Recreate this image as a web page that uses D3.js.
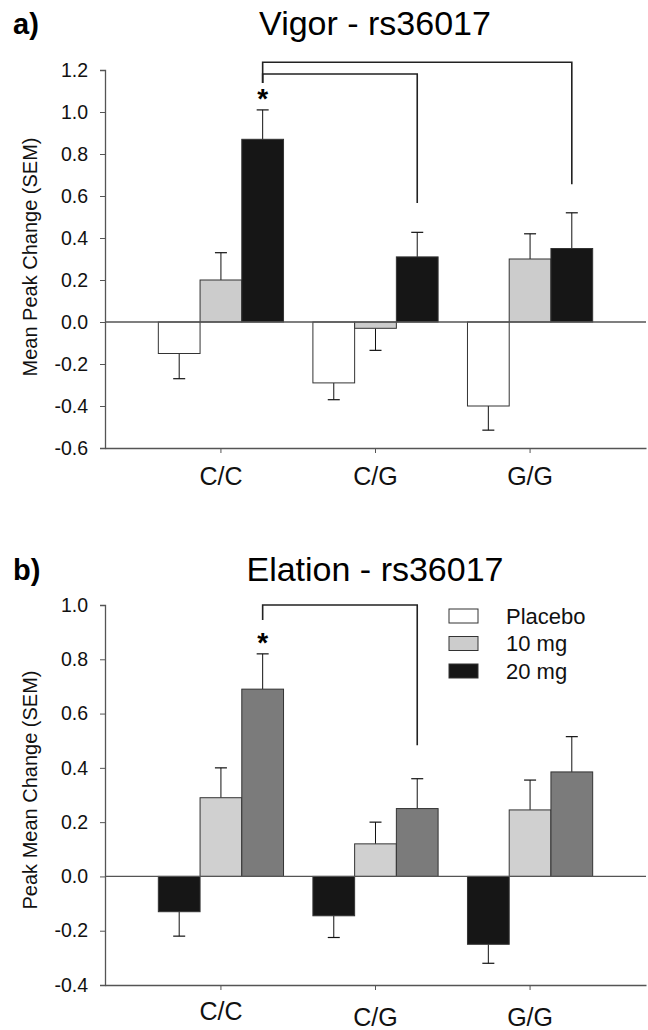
<!DOCTYPE html>
<html>
<head>
<meta charset="utf-8">
<script src="https://cdn.jsdelivr.net/npm/d3@7"></script>
<style>
  body { margin: 0; background: #fff; }
  svg { display: block; font-family: "Liberation Sans", Arial, Helvetica, sans-serif; }
</style>
</head>
<body>
<svg id="chart"></svg>
<script>
var width = 648, height = 1030;

const categories = ["C/C", "C/G", "G/G"];
const doses = ["Placebo", "10 mg", "20 mg"];

// Vigor - rs36017
const vigorPlacebo = [-0.15, -0.29, -0.40];
const vigor10 = [0.20, -0.03, 0.30];
const vigor20 = [0.87, 0.31, 0.35];
const vigorPlaceboSem = [0.12, 0.08, 0.115];
const vigor10Sem = [0.13, 0.105, 0.12];
const vigor20Sem = [0.14, 0.117, 0.17];
const vigorTicks = [-0.6, -0.4, -0.2, 0.0, 0.2, 0.4, 0.6, 0.8, 1.0, 1.2];

// Elation - rs36017
const elationPlacebo = [-0.13, -0.145, -0.25];
const elation10 = [0.29, 0.12, 0.245];
const elation20 = [0.69, 0.25, 0.385];
const elationPlaceboSem = [0.09, 0.08, 0.07];
const elation10Sem = [0.11, 0.08, 0.11];
const elation20Sem = [0.13, 0.11, 0.13];
const elationTicks = [-0.4, -0.2, 0.0, 0.2, 0.4, 0.6, 0.8, 1.0];

// significance brackets: category index of the 20 mg bars, heights in data units
const vigorBrackets = [
  { from: 0, to: 2, top: 1.237, left: 1.138, right: 0.656 },
  { from: 0, to: 1, top: 1.181, left: 1.138, right: 0.567 },
];
const elationBrackets = [
  { from: 0, to: 1, top: 1.0, left: 0.945, right: 0.483 },
];

const svg = d3.select("#chart").attr("width", width).attr("height", height);

const axisColor = "#555";

const x0 = d3.scaleBand()
  .domain(categories)
  .range([105, 646])
  .paddingInner(0.19)
  .paddingOuter(0.345);

const x1 = d3.scaleBand()
  .domain(doses)
  .range([0, x0.bandwidth()]);

// plain hyphen for negatives, like the original
const fmt = (d) => d3.format(".1f")(d).replace("\u2212", "-");

function drawPanel(cfg) {
  const y = d3.scaleLinear().domain(cfg.domain).range(cfg.range);
  const g = svg.append("g");

  // panel letter + title
  g.append("text")
    .attr("x", 13)
    .attr("y", cfg.titleY)
    .attr("font-size", 29)
    .attr("font-weight", "bold")
    .text(cfg.letter);

  g.append("text")
    .attr("x", 375)
    .attr("y", cfg.titleY + 1)
    .attr("text-anchor", "middle")
    .attr("font-size", 34)
    .text(cfg.title);

  // y axis
  const yAxis = d3.axisLeft(y)
    .tickValues(cfg.ticks)
    .tickSize(5)
    .tickPadding(12)
    .tickFormat(fmt);

  const ya = g.append("g")
    .attr("transform", `translate(${x0.range()[0]},0)`)
    .call(yAxis);
  ya.select(".domain").attr("stroke", axisColor).attr("stroke-width", 1.3);
  ya.selectAll(".tick line").attr("stroke", axisColor);
  ya.selectAll(".tick text")
    .attr("font-size", 19.5)
    .attr("font-family", "Liberation Sans, Arial, sans-serif")
    .attr("fill", "#111");

  // x axis along the bottom
  const xAxis = d3.axisBottom(x0).tickSize(5).tickPadding(14).tickSizeOuter(0);
  const xa = g.append("g")
    .attr("transform", `translate(0,${y(cfg.domain[0])})`)
    .call(xAxis);
  xa.select(".domain").attr("stroke", axisColor).attr("stroke-width", 1.3);
  xa.selectAll(".tick line").attr("stroke", axisColor);
  xa.selectAll(".tick text")
    .attr("font-size", 25)
    .attr("font-family", "Liberation Sans, Arial, sans-serif")
    .attr("fill", "#111")
    .attr("transform", (d, i) => `translate(0,${cfg.catShift[i]})`)
    .attr("dy", "0.71em");

  // y label
  g.append("text")
    .attr("transform", `translate(37,${cfg.labelY}) rotate(-90)`)
    .attr("text-anchor", "middle")
    .attr("font-size", 20)
    .attr("fill", "#111")
    .text(cfg.yLabel);

  // bars
  const rows = categories.map((c, i) => ({
    cat: c,
    vals: cfg.series.map((s, k) => ({ dose: doses[k], v: s.mean[i], e: s.sem[i], k: k })),
  }));

  const grp = g.selectAll("g.group")
    .data(rows)
    .enter()
    .append("g")
    .attr("class", "group")
    .attr("transform", (d) => `translate(${x0(d.cat)},0)`);

  // error bars first so bars sit over their base
  grp.selectAll("g.err")
    .data((d) => d.vals)
    .enter()
    .append("g")
    .attr("class", "err")
    .each(function (d) {
      const cx = x1(d.dose) + x1.bandwidth() / 2;
      const end = d.v >= 0 ? d.v + d.e : d.v - d.e;
      const sel = d3.select(this);
      sel.append("line")
        .attr("x1", cx).attr("x2", cx)
        .attr("y1", y(d.v)).attr("y2", y(end))
        .attr("stroke", "#111").attr("stroke-width", 1);
      sel.append("line")
        .attr("x1", cx - 6).attr("x2", cx + 6)
        .attr("y1", y(end)).attr("y2", y(end))
        .attr("stroke", "#111").attr("stroke-width", 1.2);
    });

  grp.selectAll("rect")
    .data((d) => d.vals)
    .enter()
    .append("rect")
    .attr("x", (d) => x1(d.dose))
    .attr("width", x1.bandwidth())
    .attr("y", (d) => y(Math.max(0, d.v)))
    .attr("height", (d) => Math.abs(y(d.v) - y(0)))
    .attr("fill", (d) => cfg.colors[d.k])
    .attr("stroke", "#333")
    .attr("stroke-width", 1);

  // zero line
  g.append("line")
    .attr("x1", x0.range()[0])
    .attr("x2", x0.range()[1])
    .attr("y1", y(0))
    .attr("y2", y(0))
    .attr("stroke", axisColor)
    .attr("stroke-width", 1.3);

  // brackets
  const bx = (i) => x0(categories[i]) + x1(doses[2]) + x1.bandwidth() / 2;
  cfg.brackets.forEach((b) => {
    g.append("path")
      .attr("d", `M${bx(b.from)},${y(b.left)}V${y(b.top)}H${bx(b.to)}V${y(b.right)}`)
      .attr("fill", "none")
      .attr("stroke", "#222")
      .attr("stroke-width", 1.6);
  });

  // significance star above the C/C 20 mg bar
  const s = cfg.series[2];
  g.append("text")
    .attr("x", bx(0))
    .attr("y", y(s.mean[0] + s.sem[0]) - 2)
    .attr("text-anchor", "middle")
    .attr("font-size", 28)
    .attr("font-weight", "bold")
    .text("*");

  return y;
}

drawPanel({
  letter: "a)",
  title: "Vigor - rs36017",
  titleY: 34,
  yLabel: "Mean Peak Change (SEM)",
  labelY: 257,
  domain: [-0.6, 1.2],
  range: [448, 70],
  ticks: vigorTicks,
  catShift: [0, 0, 0],
  colors: ["#ffffff", "#cccccc", "#161616"],
  series: [
    { mean: vigorPlacebo, sem: vigorPlaceboSem },
    { mean: vigor10, sem: vigor10Sem },
    { mean: vigor20, sem: vigor20Sem },
  ],
  brackets: vigorBrackets,
});

drawPanel({
  letter: "b)",
  title: "Elation - rs36017",
  titleY: 580,
  yLabel: "Peak Mean Change (SEM)",
  labelY: 790,
  domain: [-0.4, 1.0],
  range: [985, 605],
  ticks: elationTicks,
  catShift: [-2, 4, 4],
  colors: ["#161616", "#d0d0d0", "#7b7b7b"],
  series: [
    { mean: elationPlacebo, sem: elationPlaceboSem },
    { mean: elation10, sem: elation10Sem },
    { mean: elation20, sem: elation20Sem },
  ],
  brackets: elationBrackets,
});

// legend (bottom panel)
const legendColors = ["#ffffff", "#cccccc", "#161616"];
const legend = svg.append("g").attr("transform", "translate(449,609)");
const item = legend.selectAll("g")
  .data(doses)
  .enter()
  .append("g")
  .attr("transform", (d, i) => `translate(0,${i * 27.5})`);
item.append("rect")
  .attr("width", 29)
  .attr("height", 14)
  .attr("fill", (d, i) => legendColors[i])
  .attr("stroke", "#333")
  .attr("stroke-width", 1);
item.append("text")
  .attr("x", 57)
  .attr("y", 7)
  .attr("dy", "0.36em")
  .attr("font-size", 22)
  .attr("fill", "#111")
  .text((d) => d);
</script>
</body>
</html>
